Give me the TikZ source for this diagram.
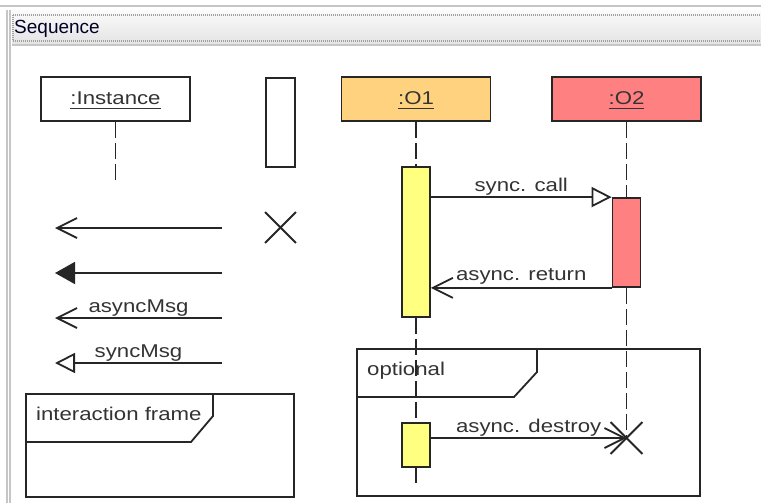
\documentclass[tikz,border=0pt]{standalone}
\usepackage{fontspec}
\setmainfont{Liberation Sans}
\newfontfamily\diafont[FakeStretch=1.2]{Liberation Sans}
\usepackage{tikz}
\usetikzlibrary{positioning, arrows.meta, shapes.misc, calc}
\definecolor{objorange}{RGB}{255,210,128}
\definecolor{objred}{RGB}{255,128,128}
\definecolor{actyellow}{RGB}{255,255,128}
\newcommand{\diatext}{\diafont\fontsize{18.5pt}{22pt}\selectfont}
\newcommand{\objname}[1]{{\setbox0\hbox{#1}\rlap{\rule[-4pt]{\wd0}{1.4pt}}\box0}}
\tikzstyle{chrome} = [draw=gray!45, line width=1.2pt]
\tikzstyle{titledots} = [draw=gray!75, line width=1.5pt, dash pattern=on 1pt off 1pt]
\tikzstyle{objbox} = [rectangle, draw=black!85, line width=1.8pt, minimum width=149pt, minimum height=44pt, text height=14pt, text depth=2pt, font=\diatext, text=black!80]
\tikzstyle{actbox} = [rectangle, draw=black!85, line width=1.8pt, fill=actyellow, minimum width=28pt, inner sep=0pt]
\tikzstyle{crossmark} = [cross out, draw=black!85, line width=1.8pt, minimum size=30pt, inner sep=0pt]
\tikzstyle{lifeline} = [draw=black!85, line width=1.8pt, dash pattern=on 16pt off 5pt]
\tikzstyle{msgline} = [draw=black!85, line width=1.8pt]
\tikzstyle{asyncarrow} = [msgline, -{Straight Barb[length=20pt, width=20pt]}]
\tikzstyle{syncarrow} = [msgline, -{Triangle[open, length=20pt, width=20pt, fill=white]}]
\tikzstyle{filledarrow} = [msgline, -{Triangle[length=20pt, width=22pt]}]
\tikzstyle{msglabel} = [midway, anchor=base, yshift=6pt, inner sep=0pt, font=\diatext, text=black!80]
\tikzstyle{fragbox} = [rectangle, draw=black!85, line width=1.8pt, inner sep=0pt]
\tikzstyle{fragline} = [draw=black!85, line width=1.8pt]
\tikzstyle{fraglabel} = [anchor=base west, inner sep=0pt, font=\diatext, text=black!80]
\begin{document}
\begin{tikzpicture}[x=1pt, y=-1pt]
        \useasboundingbox (0,0) rectangle (761,503);
        \fill [white] (0,0) rectangle (761,503);
        \draw [chrome, line width=2pt] (0,6) -- (761,6);
        \fill [top color=gray!4, bottom color=gray!22] (12,11) rectangle (761,45);
        \draw [titledots] (13,15) -- (761,15);
        \draw [titledots] (13,41) -- (761,41);
        \draw [titledots] (13,15) -- (13,41);
        \draw [chrome] (12,45) -- (761,45);
        \draw [chrome] (7,10) -- (7,503);
        \draw [chrome] (10,10) -- (10,503);
        \node (title) [anchor=base west, inner sep=0pt, font=\fontsize{19pt}{22pt}\selectfont, text=black!85!blue] at (14,34) {Sequence};

        \node (iframe) [fragbox, minimum width=268pt, minimum height=103pt] at (160,445.5) {};
        \draw [fragline] (213,394) -- (213,416) -- (191,442) -- (26,442);
        \node (iframelabel) [fraglabel] at (36,420) {interaction frame};
        \node (optframe) [fragbox, minimum width=343pt, minimum height=147pt] at (528.5,422.5) {};
        \draw [fragline] (537,349) -- (537,372) -- (514,397) -- (357,397);
        \node (optlabel) [fraglabel] at (367,375) {optional};

        \node (inst) [objbox] at (115.5,99) {\objname{:Instance}};
        \node (blank) [objbox, minimum width=29pt, minimum height=89pt] at (280.5,122.5) {};
        \node (o1) [objbox, fill=objorange] at (416,99) {\objname{:O1}};
        \node (o2) [objbox, fill=objred] at (626.5,99) {\objname{:O2}};

        \node (act1) [actbox, minimum height=150pt] at (416,242) {};
        \node (act2) [actbox, fill=objred, minimum height=89pt] at (626.5,242.5) {};
        \node (act3) [actbox, minimum height=44pt] at (416,445) {};
        \node (destroy) [crossmark] at (626.5,438) {};
        \node (stopx) [crossmark, minimum size=29pt] at (280.5,227.5) {};
        \coordinate (instend) at (115.5,183);
        \coordinate (o1end) at (416,483);

        \draw [lifeline] (inst.south) -- (instend);
        \draw [lifeline] (o1.south) -- (act1.north);
        \draw [lifeline] (act1.south) -- (act3.north);
        \draw [lifeline] (act3.south) -- (o1end);
        \draw [lifeline] (o2.south) -- (act2.north);
        \draw [lifeline] (act2.south) -- (destroy.center);

        \draw [syncarrow] (act1.east |- act2.north west) -- node[msglabel]{sync. call} (act2.north west);
        \draw [asyncarrow] (act2.south west) -- node[msglabel, yshift=1pt]{async. return} (act2.south west -| act1.east);
        \draw [asyncarrow] (act3.east |- destroy.center) -- node[msglabel]{async. destroy} (destroy.center);

        \coordinate (r1) at (222,228);
        \coordinate (l1) at (55,228);
        \coordinate (r2) at (222,273);
        \coordinate (l2) at (55,273);
        \coordinate (r3) at (222,318);
        \coordinate (l3) at (55,318);
        \coordinate (r4) at (222,363);
        \coordinate (l4) at (55,363);
        \draw [asyncarrow] (r1) -- (l1);
        \draw [filledarrow] (r2) -- (l2);
        \draw [asyncarrow] (r3) -- node[msglabel]{asyncMsg} (l3);
        \draw [syncarrow] (r4) -- node[msglabel]{syncMsg} (l4);
\end{tikzpicture}
\end{document}
